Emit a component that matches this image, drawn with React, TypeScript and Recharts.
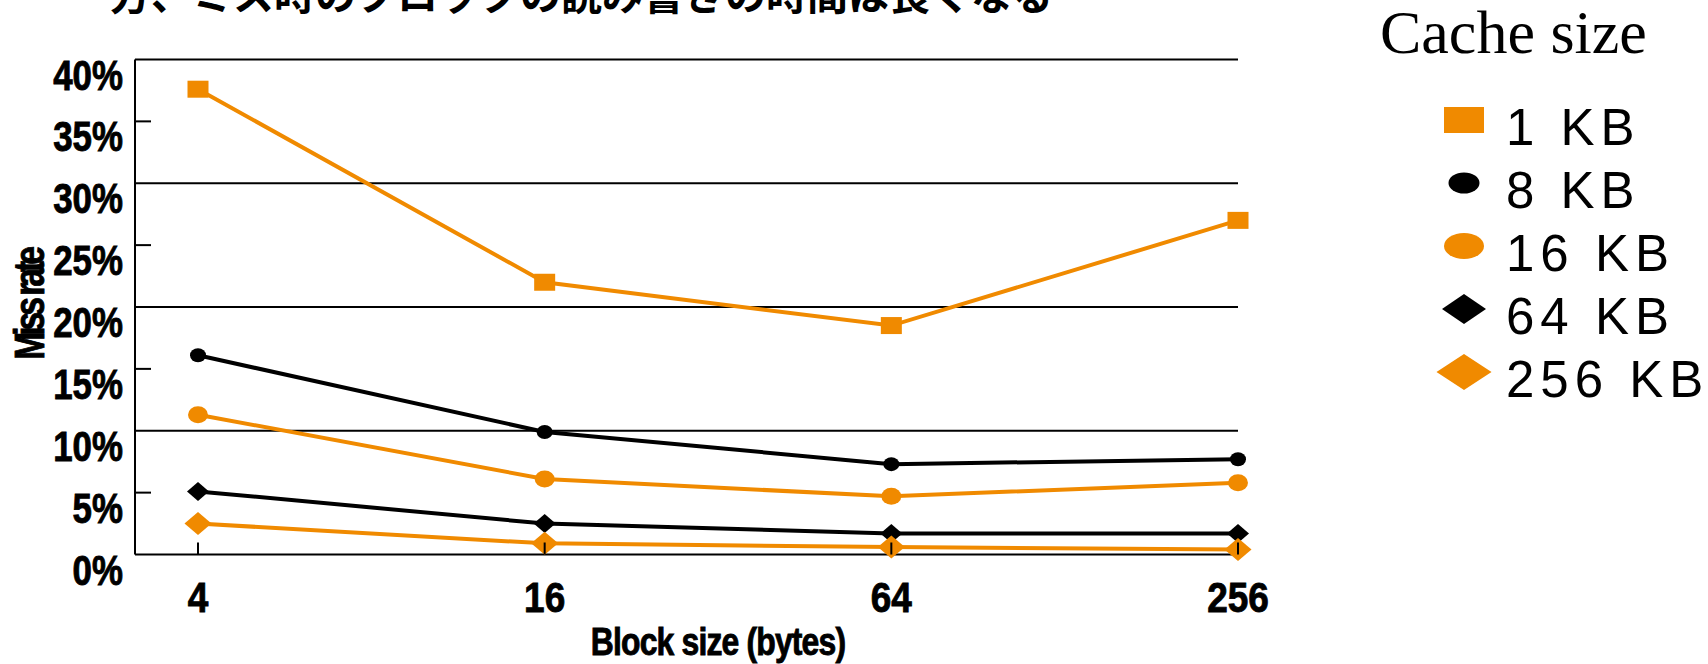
import React from "react";
import { LineChart, Line, XAxis, YAxis, CartesianGrid, Legend } from "recharts";

const blockSizes = ["4", "16", "64", "256"];
const missRate1KB = [37.6, 22.0, 18.5, 27.0];
const missRate8KB = [16.1, 9.9, 7.3, 7.7];
const missRate16KB = [11.3, 6.1, 4.7, 5.8];
const missRate64KB = [5.1, 2.5, 1.7, 1.7];
const missRate256KB = [2.5, 0.9, 0.6, 0.4];
const cacheSizes = ["1 KB", "8 KB", "16 KB", "64 KB", "256 KB"];
const yTicks = [0, 5, 10, 15, 20, 25, 30, 35, 40];
const gridValues = [10, 20, 30, 40];

const titleText = "一方、ミス時のブロックの読み書きの時間は長くなる";

const ORANGE = "#f08a00";
const BLACK = "#000";
const SANS = "'Liberation Sans', Arial, sans-serif";
const SERIF = "'Liberation Serif', 'Times New Roman', serif";

type Shape = "rect" | "ellipse" | "diamond";

// marker sizes are [width, height]; swatch is the bigger legend version
const series: { key: string; name: string; color: string; shape: Shape; dot: number[]; swatch: number[] }[] = [
  { key: "kb1", name: cacheSizes[0], color: ORANGE, shape: "rect", dot: [21, 17], swatch: [40, 26] },
  { key: "kb8", name: cacheSizes[1], color: BLACK, shape: "ellipse", dot: [16, 14], swatch: [31, 21] },
  { key: "kb16", name: cacheSizes[2], color: ORANGE, shape: "ellipse", dot: [20, 17], swatch: [40, 26] },
  { key: "kb64", name: cacheSizes[3], color: BLACK, shape: "diamond", dot: [22, 19], swatch: [44, 30] },
  { key: "kb256", name: cacheSizes[4], color: ORANGE, shape: "diamond", dot: [27, 23], swatch: [55, 36] },
];

const data = blockSizes.map((block, i) => ({
  block,
  kb1: missRate1KB[i],
  kb8: missRate8KB[i],
  kb16: missRate16KB[i],
  kb64: missRate64KB[i],
  kb256: missRate256KB[i],
}));

// heavy condensed look for the axis texts
const heavy = { fontFamily: SANS, fontWeight: 700, fill: BLACK, stroke: BLACK, strokeWidth: 0.9 };

function marker(shape: Shape, cx: number, cy: number, w: number, h: number, color: string, key?: string) {
  if (shape === "rect") {
    return <rect key={key} x={cx - w / 2} y={cy - h / 2} width={w} height={h} fill={color} />;
  }
  if (shape === "ellipse") {
    return <ellipse key={key} cx={cx} cy={cy} rx={w / 2} ry={h / 2} fill={color} />;
  }
  const pts = `${cx - w / 2},${cy} ${cx},${cy - h / 2} ${cx + w / 2},${cy} ${cx},${cy + h / 2}`;
  return <polygon key={key} points={pts} fill={color} />;
}

function YTick(props: any) {
  const { x, y, payload } = props;
  const v = payload.value;
  return (
    <g>
      {v % 10 === 5 && <line x1={x} y1={y} x2={x + 16} y2={y} stroke={BLACK} strokeWidth={2} />}
      <g transform={`translate(${x - 12},${y + 30}) scale(0.83,1)`}>
        <text textAnchor="end" fontSize={42} {...heavy}>
          {v}%
        </text>
      </g>
    </g>
  );
}

function XTick(props: any) {
  const { x, y, payload } = props;
  return (
    <g>
      <line x1={x} y1={y} x2={x} y2={y - 12} stroke={BLACK} strokeWidth={2} />
      <g transform={`translate(${x},${y + 57}) scale(0.86,1)`}>
        <text textAnchor="middle" fontSize={43} {...heavy}>
          {payload.value}
        </text>
      </g>
    </g>
  );
}

function YTitle(props: any) {
  const vb = props.viewBox;
  const cy = vb.y + vb.height / 2 - 2;
  return (
    <g transform={`translate(44,${cy}) rotate(-90) scale(0.8,1)`}>
      <text textAnchor="middle" fontSize={42} letterSpacing={-5} {...heavy}>
        Miss rate
      </text>
    </g>
  );
}

function XTitle(props: any) {
  const vb = props.viewBox;
  // centred over the span of the category points (left padding 63)
  const cx = vb.x + 63 + (vb.width - 63) / 2;
  return (
    <g transform={`translate(${cx},${vb.y + 100}) scale(0.84,1)`}>
      <text textAnchor="middle" fontSize={38} letterSpacing={-1} {...heavy}>
        Block size (bytes)
      </text>
    </g>
  );
}

function CacheLegend() {
  return (
    <svg width={348} height={420} style={{ overflow: "visible" }}>
      <text x={20} y={53} fontFamily={SERIF} fontSize={62} fill={BLACK}>
        Cache size
      </text>
      {series.map((s, i) => {
        const cy = 120 + i * 63;
        return (
          <g key={s.key}>
            {marker(s.shape, 104, cy, s.swatch[0], s.swatch[1], s.color)}
            <text x={146} y={cy + 25} fontFamily={SANS} fontSize={51} letterSpacing={6} fill={BLACK}>
              {s.name}
            </text>
          </g>
        );
      })}
    </svg>
  );
}

export default function App() {
  return (
    <div style={{ position: "absolute", left: 0, top: 0, width: 1708, height: 664, background: "#fff" }}>
      <LineChart
        width={1708}
        height={664}
        data={data}
        margin={{ top: 59.5, right: 470, bottom: 49.5, left: 0 }}
      >
        <CartesianGrid vertical={false} horizontalValues={gridValues} stroke={BLACK} strokeWidth={2} />
        <XAxis
          dataKey="block"
          padding={{ left: 63, right: 0 }}
          height={60}
          interval={0}
          tickSize={0}
          tickMargin={0}
          tickLine={false}
          axisLine={{ stroke: BLACK, strokeWidth: 2 }}
          tick={<XTick />}
          label={<XTitle />}
        />
        <YAxis
          domain={[0, 40]}
          ticks={yTicks}
          width={135}
          interval={0}
          tickSize={0}
          tickMargin={0}
          tickLine={false}
          axisLine={{ stroke: BLACK, strokeWidth: 2 }}
          tick={<YTick />}
          label={<YTitle />}
        />
        <Legend
          layout="vertical"
          align="center"
          verticalAlign="middle"
          wrapperStyle={{ left: 1360, top: 0, width: 348, height: 420 }}
          content={() => <CacheLegend />}
        />
        {series.map((s) => (
          <Line
            key={s.key}
            dataKey={s.key}
            name={s.name}
            type="linear"
            stroke={s.color}
            strokeWidth={4}
            isAnimationActive={false}
            dot={(p: any) => marker(s.shape, p.cx, p.cy, s.dot[0], s.dot[1], s.color, `${s.key}-${p.index}`)}
            activeDot={false}
          />
        ))}
      </LineChart>
      <svg
        width={1708}
        height={40}
        style={{ position: "absolute", left: 0, top: 0, pointerEvents: "none" }}
      >
        <text x={69} y={9.5} fontFamily="'Noto Sans CJK JP', sans-serif" fontWeight={700} fontSize={41} fill={BLACK}>
          {titleText}
        </text>
      </svg>
    </div>
  );
}
